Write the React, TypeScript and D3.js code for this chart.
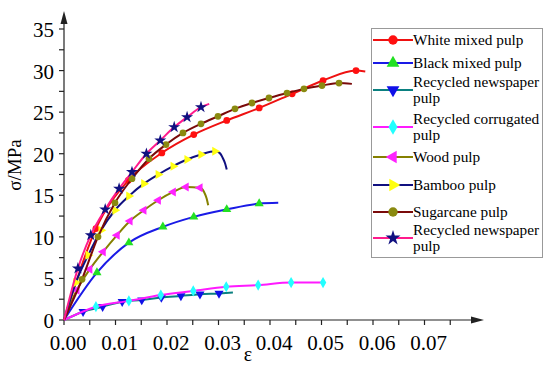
import React from "react";
import * as d3 from "d3";

type Pt = [number, number];

// legend order
const seriesNames = [
  "White mixed pulp",
  "Black mixed pulp",
  "Recycled newspaper pulp",
  "Recycled corrugated pulp",
  "Wood pulp",
  "Bamboo pulp",
  "Sugarcane pulp",
  "Recycled newspaper pulp",
];

// marker points (strain, stress MPa)
const whiteMarks: Pt[] = [[0.0062, 11.0], [0.0125, 16.8], [0.019, 20.1], [0.0252, 22.3], [0.0316, 24.0], [0.0379, 25.5], [0.0443, 27.2], [0.0503, 28.8], [0.0567, 30.0]];
const blackMarks: Pt[] = [[0.0064, 5.7], [0.0126, 9.3], [0.0192, 11.2], [0.0252, 12.4], [0.0316, 13.3], [0.0379, 14.0]];
const newsMarks: Pt[] = [[0.0037, 1.0], [0.0075, 1.6], [0.0113, 2.2], [0.0151, 2.4], [0.0189, 2.7], [0.0227, 2.9], [0.0264, 3.1], [0.0301, 3.2]];
const corrugatedMarks: Pt[] = [[0.0062, 1.6], [0.0126, 2.3], [0.0188, 3.0], [0.0251, 3.5], [0.0315, 4.0], [0.0377, 4.2], [0.0441, 4.5], [0.0503, 4.5]];
const woodMarks: Pt[] = [[0.0025, 3.6], [0.005, 6.1], [0.0076, 8.2], [0.0103, 10.2], [0.0128, 11.9], [0.0155, 13.2], [0.0183, 14.4], [0.0212, 15.4], [0.0237, 16.0], [0.0264, 15.9]];
const bambooMarks: Pt[] = [[0.0023, 4.5], [0.0047, 7.8], [0.0072, 10.8], [0.0099, 13.2], [0.0126, 14.9], [0.0155, 16.4], [0.0183, 17.5], [0.0212, 18.5], [0.0239, 19.3], [0.0266, 19.9], [0.0293, 20.3]];
const sugarcaneMarks: Pt[] = [[0.0035, 4.9], [0.0066, 10.0], [0.0099, 14.1], [0.0132, 17.0], [0.0165, 19.4], [0.0198, 21.1], [0.0231, 22.5], [0.0266, 23.6], [0.0299, 24.5], [0.0332, 25.4], [0.0365, 26.1], [0.0398, 26.7], [0.0433, 27.3], [0.0466, 27.8], [0.0501, 28.2], [0.0534, 28.5]];
const news2Marks: Pt[] = [[0.0027, 6.2], [0.0052, 10.2], [0.008, 13.3], [0.0107, 15.8], [0.0132, 17.8], [0.016, 20.0], [0.0187, 21.6], [0.0214, 23.2], [0.0239, 24.4], [0.0266, 25.6]];

// curve continues past the last marker
const whiteTail: Pt[] = [[0.0585, 29.9]];
const blackTail: Pt[] = [[0.0416, 14.1]];
const newsTail: Pt[] = [[0.0328, 3.3]];
const corrugatedTail: Pt[] = [];
const woodTail: Pt[] = [[0.0272, 15.4], [0.0277, 14.6], [0.028, 13.8]];
const bambooTail: Pt[] = [[0.0302, 20.1], [0.0309, 19.4], [0.0313, 18.8], [0.0316, 18.1]];
const sugarcaneTail: Pt[] = [[0.0559, 28.4]];
const news2Tail: Pt[] = [[0.0282, 26.0]];

const xTicks = [0, 0.01, 0.02, 0.03, 0.04, 0.05, 0.06, 0.07];
const yTicks = [0, 5, 10, 15, 20, 25, 30, 35];

const marks = [whiteMarks, blackMarks, newsMarks, corrugatedMarks, woodMarks, bambooMarks, sugarcaneMarks, news2Marks];
const tails = [whiteTail, blackTail, newsTail, corrugatedTail, woodTail, bambooTail, sugarcaneTail, news2Tail];

const lineColors = ["#ee1111", "#1a1ae6", "#0a8080", "#ff1aff", "#858000", "#101080", "#7a0a0a", "#ff1a8c"];
const markColors = ["#ff1010", "#22e022", "#1010e8", "#22ffff", "#ff22ff", "#ffff10", "#8a8a10", "#101080"];
const symbols = [d3.symbolCircle, d3.symbolTriangle, d3.symbolTriangle, d3.symbolDiamond, d3.symbolTriangle, d3.symbolTriangle, d3.symbolCircle, d3.symbolStar];
const rotations = [0, 0, 180, 0, -90, 90, 0, 0];
const legendRowY = [40, 63, 90, 127, 157, 185, 212, 238];

const FONT = "Liberation Serif, Times New Roman, DejaVu Serif, serif";

class StressStrainChart extends React.Component {
  componentDidMount() {
    this.draw();
  }

  render() {
    return (
      <div
        id="stressStrain"
        style={{ position: "absolute", left: 0, top: 0, width: 544, height: 367, background: "#fff" }}
      ></div>
    );
  }

  draw() {
    var width = 544,
      height = 367;

    var x = d3.scaleLinear().domain([0, 0.08]).range([64, 476]);
    var y = d3.scaleLinear().domain([0, 35]).range([320, 29]);

    var svg = d3
      .select("#stressStrain")
      .append("svg")
      .attr("width", width)
      .attr("height", height)
      .attr("font-family", FONT)
      .style("display", "block");

    // axes
    var axis = svg.append("g").attr("stroke", "#222").attr("stroke-width", 1.2);
    axis.append("line").attr("x1", x(0)).attr("x2", 478).attr("y1", y(0)).attr("y2", y(0));
    axis.append("line").attr("x1", x(0)).attr("x2", x(0)).attr("y1", y(0)).attr("y2", 18);
    svg.append("path").attr("d", "M484,320 L471,316.5 L471,323.5 Z").attr("fill", "#222");
    svg.append("path").attr("d", "M64,11 L60.5,24 L67.5,24 Z").attr("fill", "#222");

    d3.range(0, 0.0751, 0.005).forEach(function (v) {
      axis.append("line").attr("x1", x(v)).attr("x2", x(v)).attr("y1", y(0)).attr("y2", y(0) + 5);
    });
    d3.range(0, 35.1, 2.5).forEach(function (v) {
      axis.append("line").attr("x1", x(0) - 5).attr("x2", x(0)).attr("y1", y(v)).attr("y2", y(v));
    });

    svg
      .selectAll(".xlab")
      .data(xTicks)
      .enter()
      .append("text")
      .attr("font-family", FONT)
      .attr("x", function (d) { return x(d) + 4; })
      .attr("y", 350)
      .attr("text-anchor", "middle")
      .attr("font-size", 21)
      .text(function (d) { return d3.format(".2f")(d); });

    svg
      .selectAll(".ylab")
      .data(yTicks)
      .enter()
      .append("text")
      .attr("font-family", FONT)
      .attr("x", 54)
      .attr("y", function (d) { return y(d) + 8; })
      .attr("text-anchor", "end")
      .attr("font-size", 21)
      .text(function (d) { return d; });

    svg
      .append("text")
      .attr("font-family", FONT)
      .attr("transform", "translate(21,165) rotate(-90)")
      .attr("text-anchor", "middle")
      .attr("font-size", 19)
      .text("σ/MPa");
    svg
      .append("text")
      .attr("font-family", FONT)
      .attr("x", 248)
      .attr("y", 361)
      .attr("text-anchor", "middle")
      .attr("font-size", 20)
      .text("ε");

    var line = d3
      .line<Pt>()
      .x(function (d) { return x(d[0]); })
      .y(function (d) { return y(d[1]); })
      .curve(d3.curveMonotoneX);

    marks.forEach(function (m, i) {
      var pts: Pt[] = [[0, 0] as Pt].concat(m, tails[i]);
      svg
        .append("path")
        .attr("d", line(pts))
        .attr("fill", "none")
        .attr("stroke", lineColors[i])
        .attr("stroke-width", 2);
      var sym = d3.symbol().type(symbols[i]).size(i === 7 ? 45 : 36);
      svg
        .append("g")
        .selectAll("path")
        .data(m)
        .enter()
        .append("path")
        .attr("d", sym() as string)
        .attr("transform", function (d) {
          return "translate(" + x(d[0]) + "," + y(d[1]) + ") rotate(" + rotations[i] + ")";
        })
        .attr("fill", markColors[i]);
    });

    // legend
    var legend = svg.append("g");
    legend
      .append("rect")
      .attr("x", 371.5)
      .attr("y", 28.5)
      .attr("width", 171)
      .attr("height", 229)
      .attr("fill", "#fff")
      .attr("stroke", "#999")
      .attr("stroke-width", 1);

    seriesNames.forEach(function (name, i) {
      var cy = legendRowY[i];
      legend
        .append("line")
        .attr("x1", 373)
        .attr("x2", 413)
        .attr("y1", cy)
        .attr("y2", cy)
        .attr("stroke", lineColors[i])
        .attr("stroke-width", 2);
      legend
        .append("path")
        .attr("d", d3.symbol().type(symbols[i]).size(70)() as string)
        .attr("transform", "translate(393," + cy + ") rotate(" + rotations[i] + ")")
        .attr("fill", markColors[i]);
      var lines = name.indexOf("Recycled") === 0 ? [name.slice(0, name.lastIndexOf(" ")), "pulp"] : [name];
      lines.forEach(function (t, k) {
        legend
          .append("text")
          .attr("font-family", FONT)
          .attr("x", 413)
          .attr("y", cy + 5 + (lines.length === 2 ? (k === 0 ? -8 : 8) : 0))
          .attr("font-size", 15.3)
          .text(t);
      });
    });
  }
}

export default function App() {
  return <StressStrainChart />;
}
